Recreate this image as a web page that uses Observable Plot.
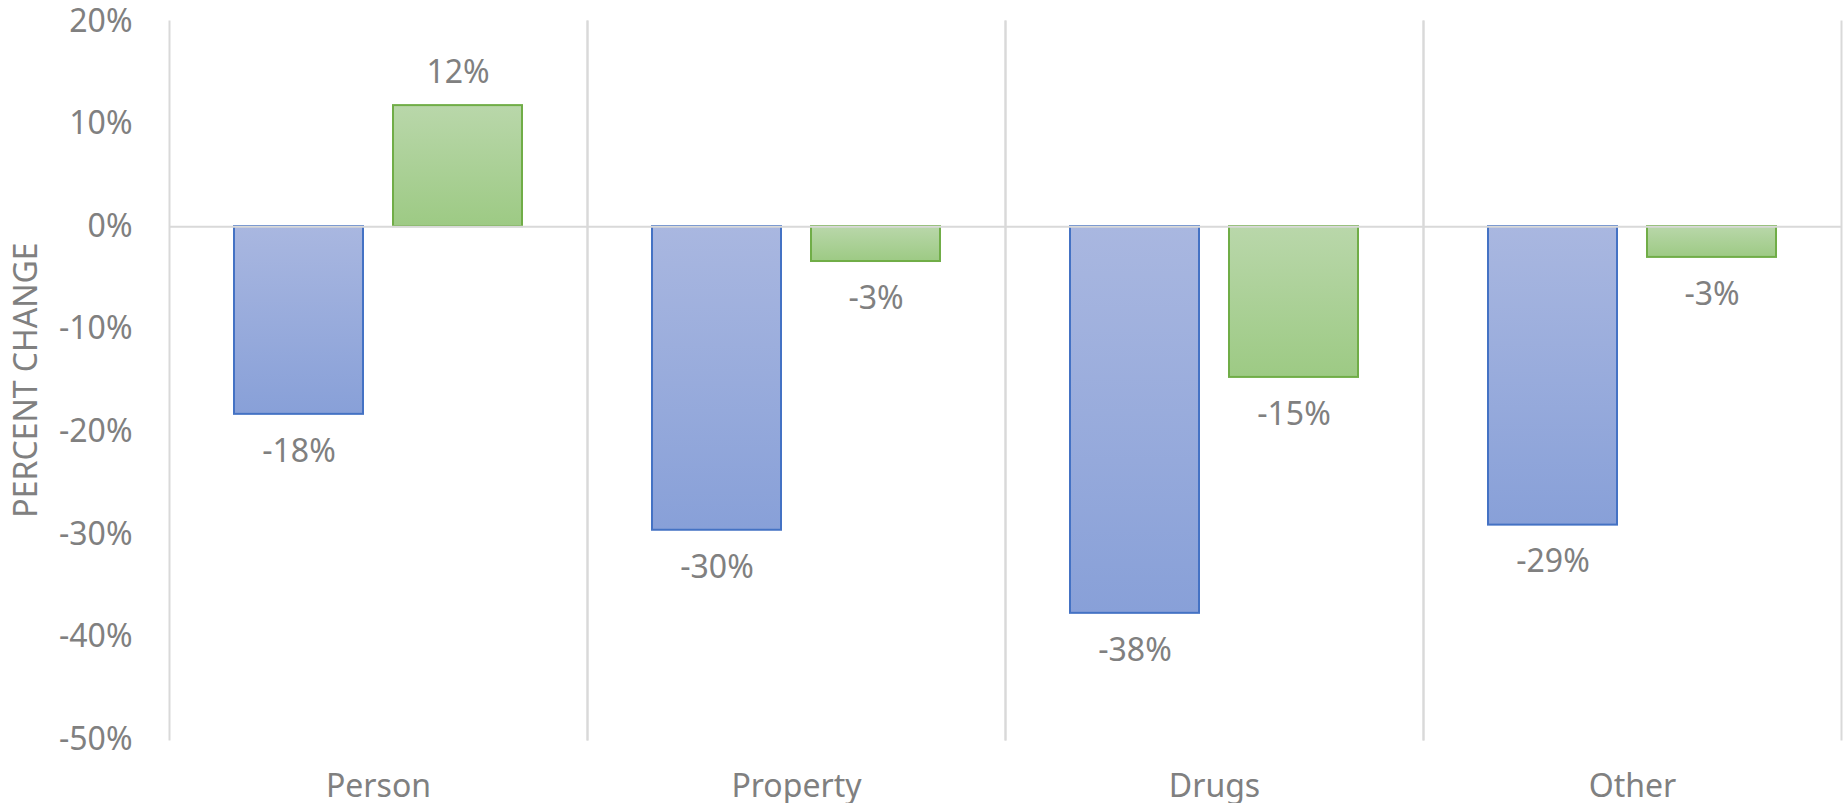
<!DOCTYPE html>
<html>
<head>
<meta charset="utf-8">
<script src="https://cdn.jsdelivr.net/npm/d3@7"></script>
<script src="https://cdn.jsdelivr.net/npm/@observablehq/plot@0.6"></script>
<style>
  html, body { margin: 0; padding: 0; background: #ffffff; }
  #chart svg { display: block; }
</style>
</head>
<body>
<div id="chart"></div>
<script>
const categories = ["Person", "Property", "Drugs", "Other"];
const seriesNames = ["Series 1", "Series 2"];
const series1Values = [-0.183, -0.296, -0.377, -0.291];
const series2Values = [0.118, -0.034, -0.147, -0.030];
const yTicks = [-0.5, -0.4, -0.3, -0.2, -0.1, 0, 0.1, 0.2];
const yTitle = "PERCENT CHANGE";

const data = categories.flatMap((c, i) => [
  {category: c, series: seriesNames[0], value: series1Values[i]},
  {category: c, series: seriesNames[1], value: series2Values[i]}
]);

const pct = v => `${Math.round(v * 100)}%`;
const textColor = "#808080";
const gridColor = "#D9D9D9";
const font = "'Noto Sans', 'Open Sans', sans-serif";

const chart = Plot.plot({
  width: 1847,
  height: 803,
  marginLeft: 167,
  marginRight: 5,
  marginTop: 21,
  marginBottom: 64,
  style: {fontFamily: font, fontSize: "32px", color: textColor, background: "#ffffff", overflow: "visible"},
  fx: {domain: categories, padding: 0, axis: "bottom", tickSize: 0, tickPadding: 35, label: null},
  x: {domain: seriesNames, paddingInner: 0.1875, paddingOuter: 0.402, axis: null},
  y: {domain: [-0.5, 0.2], ticks: yTicks, tickFormat: pct, tickSize: 0, tickPadding: 37, label: null},
  marks: [
    Plot.frame({anchor: "left", stroke: gridColor, strokeWidth: 2}),
    Plot.frame({anchor: "right", stroke: gridColor, strokeWidth: 2}),
    Plot.barY(data.filter(d => d.series === seriesNames[0]), {
      fx: "category", x: "series", y: "value",
      fill: "url(#gradBlue)", stroke: "#4472C4", strokeWidth: 2
    }),
    Plot.barY(data.filter(d => d.series === seriesNames[1]), {
      fx: "category", x: "series", y: "value",
      fill: "url(#gradGreen)", stroke: "#70AD47", strokeWidth: 2
    }),
    Plot.ruleY([0], {stroke: gridColor, strokeWidth: 2}),
    Plot.text(data.filter(d => d.value < 0), {
      fx: "category", x: "series", y: "value", text: d => pct(d.value),
      dy: 37, lineAnchor: "middle", fill: textColor, fontSize: 32, fontFamily: font
    }),
    Plot.text(data.filter(d => d.value >= 0), {
      fx: "category", x: "series", y: "value", text: d => pct(d.value),
      dy: -33, lineAnchor: "middle", fill: textColor, fontSize: 32, fontFamily: font
    })
  ]
});

// gradients
const svgSel = d3.select(chart);
const defs = svgSel.insert("defs", ":first-child");
function grad(id, top, bottom) {
  const g = defs.append("linearGradient").attr("id", id)
    .attr("x1", 0).attr("y1", 0).attr("x2", 0).attr("y2", 1);
  g.append("stop").attr("offset", "0%").attr("stop-color", top);
  g.append("stop").attr("offset", "100%").attr("stop-color", bottom);
}
grad("gradBlue", "#A9B7E0", "#88A0D8");
grad("gradGreen", "#B9D7AA", "#9DCA84");

// y-axis title
svgSel.append("text")
  .attr("transform", "translate(24,380) rotate(-90)")
  .attr("text-anchor", "middle")
  .attr("dominant-baseline", "central")
  .attr("fill", textColor)
  .attr("font-family", font)
  .attr("font-size", 32)
  .text(yTitle);

document.getElementById("chart").appendChild(chart);
</script>
</body>
</html>
